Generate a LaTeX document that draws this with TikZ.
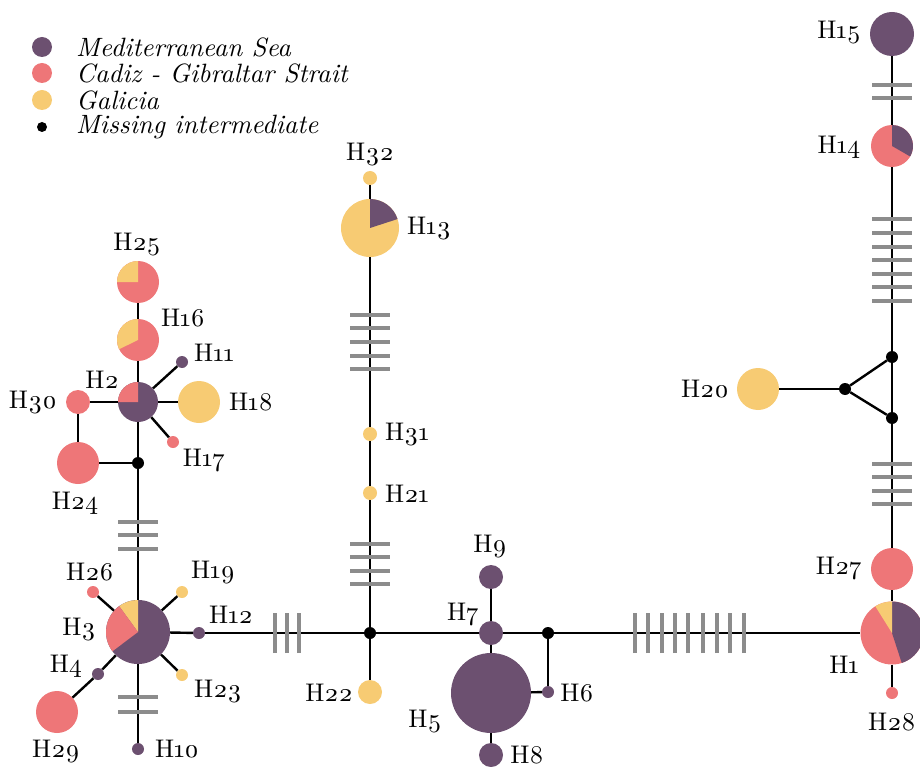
\documentclass[tikz,border=0pt]{standalone}
\usepackage{fontspec}
\setmainfont{lmroman10-regular.otf}[Numbers=OldStyle, ItalicFont=lmroman10-italic.otf]
\definecolor{medc}{RGB}{108,80,112}
\definecolor{cadc}{RGB}{238,118,120}
\definecolor{galc}{RGB}{247,203,115}
\definecolor{hatchc}{RGB}{140,140,140}
\tikzset{
  hap/.style={circle, inner sep=0pt, minimum size=#1, draw=none},
  med/.style={hap=#1, fill=medc},
  cad/.style={hap=#1, fill=cadc},
  gal/.style={hap=#1, fill=galc},
  pienode/.style={hap=#1},
  mi/.style={circle, fill=black, inner sep=0pt, minimum size=12},
  edge/.style={draw=black, line width=2.4},
  hatch/.style={draw=hatchc, line width=3.6},
  lab/.style={font=\fontsize{25.5}{25.5}\selectfont, inner sep=0pt},
  leg/.style={font=\fontsize{26.5}{26.5}\selectfont\itshape, inner sep=0pt, anchor=west},
}
\newcommand\mypieslice[5]{\fill[#5] (#1) -- ++(#3:#2) arc[start angle=#3, end angle=#4, radius=#2] -- cycle;}
\newcommand\myhbar[2]{\draw[hatch] (#1-20,#2) -- (#1+20,#2);}
\newcommand\myvbar[2]{\draw[hatch] (#1,#2-20) -- (#1,#2+20);}
\begin{document}
\begin{tikzpicture}[x=1pt,y=1pt]
\useasboundingbox (0,0) rectangle (920,-767);
% legend
\node[med=20] (lg1) at (42,-47) {};
\node[cad=20] (lg2) at (42,-73) {};
\node[gal=20] (lg3) at (42,-100) {};
\node[mi, minimum size=10] (lg4) at (42,-127) {};
\node[leg] (lt1) at (76,-47) {Mediterranean Sea};
\node[leg] (lt2) at (76,-73) {Cadiz - Gibraltar Strait};
\node[leg] (lt3) at (76,-100) {Galicia};
\node[leg] (lt4) at (76,-127) {Missing intermediate};

% haplotype nodes
\node[pienode=42] (H25) at (138,-282) {};
\node[pienode=42] (H16) at (138,-340) {};
\node[pienode=40] (H2) at (138,-402) {};
\node[med=12] (H11) at (182,-362) {};
\node[gal=42] (H18) at (199,-402) {};
\node[cad=24] (H30) at (78,-402) {};
\node[cad=12] (H17) at (173,-442) {};
\node[cad=42] (H24) at (78,-463) {};
\node[mi] (J1) at (138,-463) {};
\node[pienode=64] (H3) at (138,-632) {};
\node[cad=12] (H26) at (93,-592) {};
\node[gal=12] (H19) at (182,-592) {};
\node[med=12] (H12) at (199,-633) {};
\node[gal=12] (H23) at (182,-675) {};
\node[med=12] (H4) at (98,-674) {};
\node[cad=42] (H29) at (57,-712) {};
\node[med=12] (H10) at (138,-749) {};
\node[mi] (J2) at (370,-633) {};
\node[gal=14] (H32) at (370,-178) {};
\node[pienode=58] (H13) at (370,-228) {};
\node[gal=14] (H31) at (370,-434) {};
\node[gal=14] (H21) at (370,-493) {};
\node[gal=24] (H22) at (370,-692) {};
\node[med=24] (H7) at (491,-633) {};
\node[med=24] (H9) at (491,-577) {};
\node[med=80] (H5) at (491,-693) {};
\node[med=24] (H8) at (491,-755) {};
\node[med=12] (H6) at (548,-692) {};
\node[mi] (J3) at (548,-633) {};
\node[med=44] (H15) at (892,-34) {};
\node[pienode=42] (H14) at (892,-146) {};
\node[mi] (J4) at (892,-357) {};
\node[mi] (J5) at (845,-389) {};
\node[mi] (J6) at (892,-418) {};
\node[gal=42] (H20) at (758,-389) {};
\node[cad=42] (H27) at (892,-569) {};
\node[pienode=63] (H1) at (892,-633) {};
\node[cad=12] (H28) at (892,-693) {};

% pies
\fill[cadc] (H25.center) circle (21);
\mypieslice{H25.center}{21}{90}{180}{galc}
\fill[cadc] (H16.center) circle (21);
\mypieslice{H16.center}{21}{90}{206}{galc}
\fill[medc] (H2.center) circle (20);
\mypieslice{H2.center}{20}{90}{180}{cadc}
\fill[medc] (H3.center) circle (32);
\mypieslice{H3.center}{32}{90}{126}{galc}
\mypieslice{H3.center}{32}{126}{217}{cadc}
\fill[galc] (H13.center) circle (29);
\mypieslice{H13.center}{29}{18}{90}{medc}
\fill[cadc] (H14.center) circle (21);
\mypieslice{H14.center}{21}{-30}{90}{medc}
\fill[cadc] (H1.center) circle (31.5);
\mypieslice{H1.center}{31.5}{-72}{90}{medc}
\mypieslice{H1.center}{31.5}{90}{122}{galc}

% edges
\draw[edge] (H25) -- (H16);
\draw[edge] (H16) -- (H2);
\draw[edge] (H2) -- (J1);
\draw[edge] (J1) -- (H24);
\draw[edge] (H24) -- (H30);
\draw[edge] (H30) -- (H2);
\draw[edge] (H2) -- (H11);
\draw[edge] (H2) -- (H18);
\draw[edge] (H2) -- (H17);
\draw[edge] (J1) -- (H3);
\draw[edge] (H3) -- (H26);
\draw[edge] (H3) -- (H19);
\draw[edge] (H3) -- (H12);
\draw[edge] (H3) -- (H23);
\draw[edge] (H3) -- (H4);
\draw[edge] (H4) -- (H29);
\draw[edge] (H3) -- (H10);
\draw[edge] (H12) -- (J2);
\draw[edge] (J2) -- (H7);
\draw[edge] (H7) -- (J3);
\draw[edge] (J3) -- (H1);
\draw[edge] (H7) -- (H9);
\draw[edge] (H7) -- (H5);
\draw[edge] (H5) -- (H8);
\draw[edge] (H5) -- (H6);
\draw[edge] (J3) -- (H6);
\draw[edge] (H32) -- (H13);
\draw[edge] (H13) -- (H31);
\draw[edge] (H31) -- (H21);
\draw[edge] (H21) -- (J2);
\draw[edge] (J2) -- (H22);
\draw[edge] (H15) -- (H14);
\draw[edge] (H14) -- (J4);
\draw[edge] (J4) -- (J6);
\draw[edge] (J4) -- (J5);
\draw[edge] (J5) -- (J6);
\draw[edge] (J5) -- (H20);
\draw[edge] (J6) -- (H27);
\draw[edge] (H27) -- (H1);
\draw[edge] (H1) -- (H28);

% hatch marks
\foreach \y in {-85,-98} {\myhbar{892}{\y}}
\foreach \y in {-219,-233,-247,-260,-274,-287,-301} {\myhbar{892}{\y}}
\foreach \y in {-464,-477,-491,-504} {\myhbar{892}{\y}}
\foreach \x in {635,648,662,675,688,703,717,730,744} {\myvbar{\x}{-633}}
\foreach \y in {-315,-328,-342,-356,-369} {\myhbar{370}{\y}}
\foreach \y in {-544,-557,-571,-584} {\myhbar{370}{\y}}
\foreach \x in {275,287,299} {\myvbar{\x}{-633}}
\foreach \y in {-522,-535,-549} {\myhbar{138}{\y}}
\foreach \y in {-697,-712} {\myhbar{138}{\y}}

% labels
\node[lab] (lH25) at (137,-245) {H25};
\node[lab] (lH16) at (183,-318) {H16};
\node[lab] (lH11) at (214,-353) {H11};
\node[lab] (lH2) at (102,-380) {H2};
\node[lab] (lH18) at (251,-402) {H18};
\node[lab] (lH30) at (33,-403) {H30};
\node[lab] (lH17) at (204,-461) {H17};
\node[lab] (lH24) at (75,-503) {H24};
\node[lab] (lH26) at (90,-572) {H26};
\node[lab] (lH19) at (213,-573) {H19};
\node[lab] (lH12) at (231,-615) {H12};
\node[lab] (lH3) at (79,-630) {H3};
\node[lab] (lH4) at (66,-666) {H4};
\node[lab] (lH23) at (218,-692) {H23};
\node[lab] (lH29) at (56,-752) {H29};
\node[lab] (lH10) at (177,-749) {H10};
\node[lab] (lH32) at (370,-155) {H32};
\node[lab] (lH13) at (429,-229) {H13};
\node[lab] (lH31) at (407,-435) {H31};
\node[lab] (lH21) at (407,-494) {H21};
\node[lab] (lH22) at (329,-693) {H22};
\node[lab] (lH9) at (490,-547) {H9};
\node[lab] (lH7) at (463,-615) {H7};
\node[lab] (lH6) at (577,-693) {H6};
\node[lab] (lH5) at (425,-722) {H5};
\node[lab] (lH8) at (527,-755) {H8};
\node[lab] (lH15) at (839,-33) {H15};
\node[lab] (lH14) at (839,-147) {H14};
\node[lab] (lH20) at (705,-389) {H20};
\node[lab] (lH27) at (839,-569) {H27};
\node[lab] (lH1) at (844,-665) {H1};
\node[lab] (lH28) at (892,-722) {H28};
\end{tikzpicture}
\end{document}
